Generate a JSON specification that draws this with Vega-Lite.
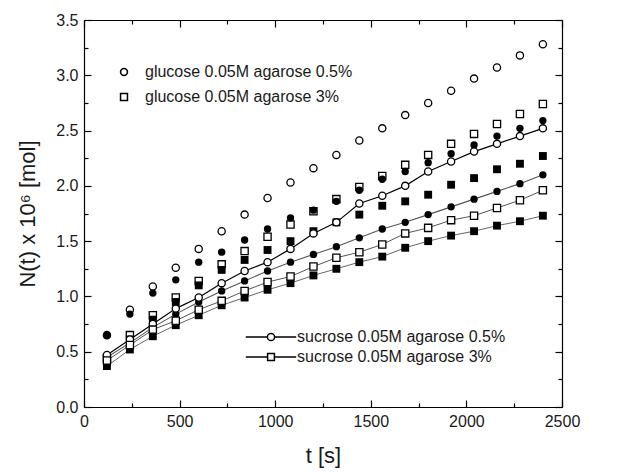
{
  "$schema": "https://vega.github.io/schema/vega-lite/v6.json",
  "width": 478,
  "height": 387,
  "autosize": {"type": "none"},
  "padding": {"left": 84, "top": 20, "right": 66, "bottom": 65},
  "background": "white",
  "config": {
    "view": {"stroke": null},
    "font": "Liberation Sans",
    "axis": {"grid": false, "domainColor": "black", "tickColor": "black", "labelColor": "#1a1a1a", "titleColor": "#1a1a1a", "labelFont": "Liberation Sans", "titleFont": "Liberation Sans", "titleFontWeight": "normal", "domainWidth": 1.2, "tickWidth": 1.2, "labelFlush": false, "labelOverlap": false},
    "legend": {"labelFont": "Liberation Sans", "labelFontSize": 16, "labelColor": "#1a1a1a", "labelLimit": 0, "padding": 0, "title": null}
  },
  "datasets": {
    "d": [
      {"t":120,"v":0.65,"s":"glucose 0.05M agarose 0.5%"},{"t":240,"v":0.88,"s":"glucose 0.05M agarose 0.5%"},{"t":360,"v":1.09,"s":"glucose 0.05M agarose 0.5%"},{"t":480,"v":1.26,"s":"glucose 0.05M agarose 0.5%"},{"t":600,"v":1.43,"s":"glucose 0.05M agarose 0.5%"},{"t":720,"v":1.59,"s":"glucose 0.05M agarose 0.5%"},{"t":840,"v":1.74,"s":"glucose 0.05M agarose 0.5%"},{"t":960,"v":1.89,"s":"glucose 0.05M agarose 0.5%"},{"t":1080,"v":2.03,"s":"glucose 0.05M agarose 0.5%"},{"t":1200,"v":2.16,"s":"glucose 0.05M agarose 0.5%"},{"t":1320,"v":2.28,"s":"glucose 0.05M agarose 0.5%"},{"t":1440,"v":2.41,"s":"glucose 0.05M agarose 0.5%"},{"t":1560,"v":2.52,"s":"glucose 0.05M agarose 0.5%"},{"t":1680,"v":2.64,"s":"glucose 0.05M agarose 0.5%"},{"t":1800,"v":2.75,"s":"glucose 0.05M agarose 0.5%"},{"t":1920,"v":2.86,"s":"glucose 0.05M agarose 0.5%"},{"t":2040,"v":2.97,"s":"glucose 0.05M agarose 0.5%"},{"t":2160,"v":3.07,"s":"glucose 0.05M agarose 0.5%"},{"t":2280,"v":3.18,"s":"glucose 0.05M agarose 0.5%"},{"t":2400,"v":3.28,"s":"glucose 0.05M agarose 0.5%"},
      {"t":120,"v":0.44,"s":"glucose 0.05M agarose 3%"},{"t":240,"v":0.65,"s":"glucose 0.05M agarose 3%"},{"t":360,"v":0.83,"s":"glucose 0.05M agarose 3%"},{"t":480,"v":0.99,"s":"glucose 0.05M agarose 3%"},{"t":600,"v":1.14,"s":"glucose 0.05M agarose 3%"},{"t":720,"v":1.29,"s":"glucose 0.05M agarose 3%"},{"t":840,"v":1.41,"s":"glucose 0.05M agarose 3%"},{"t":960,"v":1.54,"s":"glucose 0.05M agarose 3%"},{"t":1080,"v":1.65,"s":"glucose 0.05M agarose 3%"},{"t":1200,"v":1.77,"s":"glucose 0.05M agarose 3%"},{"t":1320,"v":1.88,"s":"glucose 0.05M agarose 3%"},{"t":1440,"v":1.99,"s":"glucose 0.05M agarose 3%"},{"t":1560,"v":2.09,"s":"glucose 0.05M agarose 3%"},{"t":1680,"v":2.19,"s":"glucose 0.05M agarose 3%"},{"t":1800,"v":2.28,"s":"glucose 0.05M agarose 3%"},{"t":1920,"v":2.38,"s":"glucose 0.05M agarose 3%"},{"t":2040,"v":2.47,"s":"glucose 0.05M agarose 3%"},{"t":2160,"v":2.56,"s":"glucose 0.05M agarose 3%"},{"t":2280,"v":2.65,"s":"glucose 0.05M agarose 3%"},{"t":2400,"v":2.74,"s":"glucose 0.05M agarose 3%"},
      {"t":120,"v":0.65,"s":"filled circles"},{"t":240,"v":0.84,"s":"filled circles"},{"t":360,"v":1.03,"s":"filled circles"},{"t":480,"v":1.15,"s":"filled circles"},{"t":600,"v":1.31,"s":"filled circles"},{"t":720,"v":1.40,"s":"filled circles"},{"t":840,"v":1.51,"s":"filled circles"},{"t":960,"v":1.61,"s":"filled circles"},{"t":1080,"v":1.71,"s":"filled circles"},{"t":1200,"v":1.78,"s":"filled circles"},{"t":1320,"v":1.86,"s":"filled circles"},{"t":1440,"v":1.96,"s":"filled circles"},{"t":1560,"v":2.06,"s":"filled circles"},{"t":1680,"v":2.13,"s":"filled circles"},{"t":1800,"v":2.21,"s":"filled circles"},{"t":1920,"v":2.29,"s":"filled circles"},{"t":2040,"v":2.37,"s":"filled circles"},{"t":2160,"v":2.45,"s":"filled circles"},{"t":2280,"v":2.52,"s":"filled circles"},{"t":2400,"v":2.59,"s":"filled circles"},
      {"t":120,"v":0.40,"s":"filled squares"},{"t":240,"v":0.61,"s":"filled squares"},{"t":360,"v":0.79,"s":"filled squares"},{"t":480,"v":0.95,"s":"filled squares"},{"t":600,"v":1.10,"s":"filled squares"},{"t":720,"v":1.24,"s":"filled squares"},{"t":840,"v":1.33,"s":"filled squares"},{"t":960,"v":1.42,"s":"filled squares"},{"t":1080,"v":1.50,"s":"filled squares"},{"t":1200,"v":1.59,"s":"filled squares"},{"t":1320,"v":1.67,"s":"filled squares"},{"t":1440,"v":1.74,"s":"filled squares"},{"t":1560,"v":1.82,"s":"filled squares"},{"t":1680,"v":1.86,"s":"filled squares"},{"t":1800,"v":1.92,"s":"filled squares"},{"t":1920,"v":2.01,"s":"filled squares"},{"t":2040,"v":2.07,"s":"filled squares"},{"t":2160,"v":2.15,"s":"filled squares"},{"t":2280,"v":2.20,"s":"filled squares"},{"t":2400,"v":2.27,"s":"filled squares"},
      {"t":120,"v":0.47,"s":"sucrose 0.05M agarose 0.5%"},{"t":240,"v":0.61,"s":"sucrose 0.05M agarose 0.5%"},{"t":360,"v":0.75,"s":"sucrose 0.05M agarose 0.5%"},{"t":480,"v":0.89,"s":"sucrose 0.05M agarose 0.5%"},{"t":600,"v":0.99,"s":"sucrose 0.05M agarose 0.5%"},{"t":720,"v":1.12,"s":"sucrose 0.05M agarose 0.5%"},{"t":840,"v":1.23,"s":"sucrose 0.05M agarose 0.5%"},{"t":960,"v":1.31,"s":"sucrose 0.05M agarose 0.5%"},{"t":1080,"v":1.43,"s":"sucrose 0.05M agarose 0.5%"},{"t":1200,"v":1.57,"s":"sucrose 0.05M agarose 0.5%"},{"t":1320,"v":1.67,"s":"sucrose 0.05M agarose 0.5%"},{"t":1440,"v":1.84,"s":"sucrose 0.05M agarose 0.5%"},{"t":1560,"v":1.91,"s":"sucrose 0.05M agarose 0.5%"},{"t":1680,"v":2.00,"s":"sucrose 0.05M agarose 0.5%"},{"t":1800,"v":2.13,"s":"sucrose 0.05M agarose 0.5%"},{"t":1920,"v":2.22,"s":"sucrose 0.05M agarose 0.5%"},{"t":2040,"v":2.31,"s":"sucrose 0.05M agarose 0.5%"},{"t":2160,"v":2.38,"s":"sucrose 0.05M agarose 0.5%"},{"t":2280,"v":2.45,"s":"sucrose 0.05M agarose 0.5%"},{"t":2400,"v":2.52,"s":"sucrose 0.05M agarose 0.5%"},
      {"t":120,"v":0.45,"s":"filled circles (line)"},{"t":240,"v":0.58,"s":"filled circles (line)"},{"t":360,"v":0.72,"s":"filled circles (line)"},{"t":480,"v":0.84,"s":"filled circles (line)"},{"t":600,"v":0.95,"s":"filled circles (line)"},{"t":720,"v":1.05,"s":"filled circles (line)"},{"t":840,"v":1.14,"s":"filled circles (line)"},{"t":960,"v":1.23,"s":"filled circles (line)"},{"t":1080,"v":1.31,"s":"filled circles (line)"},{"t":1200,"v":1.38,"s":"filled circles (line)"},{"t":1320,"v":1.45,"s":"filled circles (line)"},{"t":1440,"v":1.53,"s":"filled circles (line)"},{"t":1560,"v":1.61,"s":"filled circles (line)"},{"t":1680,"v":1.67,"s":"filled circles (line)"},{"t":1800,"v":1.74,"s":"filled circles (line)"},{"t":1920,"v":1.81,"s":"filled circles (line)"},{"t":2040,"v":1.88,"s":"filled circles (line)"},{"t":2160,"v":1.95,"s":"filled circles (line)"},{"t":2280,"v":2.02,"s":"filled circles (line)"},{"t":2400,"v":2.10,"s":"filled circles (line)"},
      {"t":120,"v":0.42,"s":"sucrose 0.05M agarose 3%"},{"t":240,"v":0.56,"s":"sucrose 0.05M agarose 3%"},{"t":360,"v":0.70,"s":"sucrose 0.05M agarose 3%"},{"t":480,"v":0.78,"s":"sucrose 0.05M agarose 3%"},{"t":600,"v":0.88,"s":"sucrose 0.05M agarose 3%"},{"t":720,"v":0.96,"s":"sucrose 0.05M agarose 3%"},{"t":840,"v":1.05,"s":"sucrose 0.05M agarose 3%"},{"t":960,"v":1.13,"s":"sucrose 0.05M agarose 3%"},{"t":1080,"v":1.18,"s":"sucrose 0.05M agarose 3%"},{"t":1200,"v":1.27,"s":"sucrose 0.05M agarose 3%"},{"t":1320,"v":1.35,"s":"sucrose 0.05M agarose 3%"},{"t":1440,"v":1.40,"s":"sucrose 0.05M agarose 3%"},{"t":1560,"v":1.47,"s":"sucrose 0.05M agarose 3%"},{"t":1680,"v":1.57,"s":"sucrose 0.05M agarose 3%"},{"t":1800,"v":1.62,"s":"sucrose 0.05M agarose 3%"},{"t":1920,"v":1.69,"s":"sucrose 0.05M agarose 3%"},{"t":2040,"v":1.73,"s":"sucrose 0.05M agarose 3%"},{"t":2160,"v":1.80,"s":"sucrose 0.05M agarose 3%"},{"t":2280,"v":1.87,"s":"sucrose 0.05M agarose 3%"},{"t":2400,"v":1.96,"s":"sucrose 0.05M agarose 3%"},
      {"t":120,"v":0.37,"s":"filled squares (line)"},{"t":240,"v":0.52,"s":"filled squares (line)"},{"t":360,"v":0.64,"s":"filled squares (line)"},{"t":480,"v":0.74,"s":"filled squares (line)"},{"t":600,"v":0.83,"s":"filled squares (line)"},{"t":720,"v":0.92,"s":"filled squares (line)"},{"t":840,"v":0.99,"s":"filled squares (line)"},{"t":960,"v":1.06,"s":"filled squares (line)"},{"t":1080,"v":1.12,"s":"filled squares (line)"},{"t":1200,"v":1.19,"s":"filled squares (line)"},{"t":1320,"v":1.25,"s":"filled squares (line)"},{"t":1440,"v":1.31,"s":"filled squares (line)"},{"t":1560,"v":1.36,"s":"filled squares (line)"},{"t":1680,"v":1.44,"s":"filled squares (line)"},{"t":1800,"v":1.50,"s":"filled squares (line)"},{"t":1920,"v":1.55,"s":"filled squares (line)"},{"t":2040,"v":1.59,"s":"filled squares (line)"},{"t":2160,"v":1.64,"s":"filled squares (line)"},{"t":2280,"v":1.68,"s":"filled squares (line)"},{"t":2400,"v":1.73,"s":"filled squares (line)"}
    ]
  },
  "layer": [
    {
      "data": {"name": "d"},
      "transform": [{"filter": {"field": "s", "oneOf": ["sucrose 0.05M agarose 0.5%", "filled circles (line)", "sucrose 0.05M agarose 3%", "filled squares (line)"]}}],
      "mark": {"type": "line"},
      "encoding": {
        "x": {"field": "t", "type": "quantitative", "scale": {"domain": [0, 2500], "nice": false},
              "axis": {"orient": "bottom", "values": [0, 500, 1000, 1500, 2000, 2500], "format": "d", "tickSize": -7, "labelPadding": 13, "labelFontSize": 16, "title": "t [s]", "titleFontSize": 22, "minExtent": 22, "maxExtent": 22, "titlePadding": 16}},
        "y": {"field": "v", "type": "quantitative", "scale": {"domain": [0, 3.5], "nice": false},
              "axis": {"orient": "left", "values": [0, 0.5, 1, 1.5, 2, 2.5, 3, 3.5], "format": ".1f", "tickSize": -7, "labelPadding": 13, "labelFontSize": 16, "title": "N(t) x 10⁶ [mol]", "titleFontSize": 22, "minExtent": 28, "maxExtent": 28, "titlePadding": 17}},
        "detail": {"field": "s"},
        "color": {"field": "s", "type": "nominal", "legend": null, "scale": {"domain": ["sucrose 0.05M agarose 0.5%", "filled circles (line)", "sucrose 0.05M agarose 3%", "filled squares (line)"], "range": ["#000000", "#555555", "#555555", "#555555"]}},
        "strokeWidth": {"field": "s", "type": "nominal", "legend": null, "scale": {"domain": ["sucrose 0.05M agarose 0.5%", "filled circles (line)", "sucrose 0.05M agarose 3%", "filled squares (line)"], "range": [1.2, 0.9, 0.9, 0.9]}}
      }
    },
    {
      "data": {"name": "d"},
      "transform": [{"filter": {"field": "s", "oneOf": ["glucose 0.05M agarose 0.5%", "glucose 0.05M agarose 3%"]}}],
      "mark": {"type": "point", "filled": true, "fill": "white", "stroke": "black", "strokeWidth": 1.3, "size": 52, "opacity": 1},
      "encoding": {
        "x": {"field": "t", "type": "quantitative", "axis": {"orient": "bottom", "values": [250, 750, 1250, 1750, 2250], "tickSize": -4, "labels": false, "domain": false, "title": null}},
        "y": {"field": "v", "type": "quantitative", "axis": {"orient": "left", "values": [0.25, 0.75, 1.25, 1.75, 2.25, 2.75, 3.25], "tickSize": -4, "labels": false, "domain": false, "title": null}},
        "shape": {"field": "s", "type": "nominal", "scale": {"domain": ["glucose 0.05M agarose 0.5%", "glucose 0.05M agarose 3%"], "range": ["circle", "square"]},
                  "legend": {"orient": "none", "legendX": 32, "legendY": 44, "symbolSize": 48, "labelOffset": 13, "rowPadding": 9,
                             "encode": {"symbols": {"fill": {"value": "white"}, "stroke": {"value": "black"}, "strokeWidth": {"value": 1.3}, "opacity": {"value": 1}}}}}
      }
    },
    {
      "data": {"name": "d"},
      "transform": [{"filter": {"field": "s", "oneOf": ["filled circles", "filled circles (line)"]}}],
      "mark": {"type": "point", "filled": true, "shape": "circle", "size": 54, "color": "black", "opacity": 1},
      "encoding": {
        "x": {"field": "t", "type": "quantitative", "axis": {"orient": "top", "values": [0, 500, 1000, 1500, 2000, 2500], "tickSize": -7, "labels": false, "title": null, "minExtent": 0, "maxExtent": 0}},
        "y": {"field": "v", "type": "quantitative", "axis": {"orient": "right", "values": [0, 0.5, 1, 1.5, 2, 2.5, 3, 3.5], "tickSize": -7, "labels": false, "title": null, "minExtent": 0, "maxExtent": 0}}
      }
    },
    {
      "data": {"name": "d"},
      "transform": [{"filter": {"field": "s", "oneOf": ["filled squares", "filled squares (line)"]}}],
      "mark": {"type": "point", "filled": true, "shape": "square", "size": 62, "color": "black", "opacity": 1},
      "encoding": {
        "x": {"field": "t", "type": "quantitative", "axis": {"orient": "top", "values": [250, 750, 1250, 1750, 2250], "tickSize": -4, "labels": false, "domain": false, "title": null, "minExtent": 0, "maxExtent": 0}},
        "y": {"field": "v", "type": "quantitative", "axis": {"orient": "right", "values": [0.25, 0.75, 1.25, 1.75, 2.25, 2.75, 3.25], "tickSize": -4, "labels": false, "domain": false, "title": null, "minExtent": 0, "maxExtent": 0}}
      }
    },
    {
      "data": {"name": "d"},
      "transform": [{"filter": {"field": "s", "oneOf": ["sucrose 0.05M agarose 0.5%", "sucrose 0.05M agarose 3%"]}}],
      "mark": {"type": "point", "filled": true, "fill": "white", "stroke": "black", "strokeWidth": 1.3, "size": 52, "opacity": 1},
      "encoding": {
        "x": {"field": "t", "type": "quantitative", "axis": null},
        "y": {"field": "v", "type": "quantitative", "axis": null},
        "shape": {"field": "s", "type": "nominal", "legend": null, "scale": {"domain": ["sucrose 0.05M agarose 0.5%", "sucrose 0.05M agarose 3%"], "range": ["circle", "square"]}}
      }
    },
    {
      "data": {"name": "d"},
      "transform": [{"filter": {"field": "s", "oneOf": ["sucrose 0.05M agarose 0.5%", "sucrose 0.05M agarose 3%"]}}],
      "mark": {"type": "point", "filled": true, "fill": "white", "stroke": "black", "strokeWidth": 1.2, "opacity": 0, "size": 64},
      "encoding": {
        "x": {"field": "t", "type": "quantitative", "axis": null},
        "y": {"field": "v", "type": "quantitative", "axis": null},
        "shape": {"field": "s", "type": "nominal",
                  "scale": {"domain": ["sucrose 0.05M agarose 0.5%", "sucrose 0.05M agarose 3%"], "range": ["M-6.3,0H-0.9M0.9,0H6.3M0.9,0A0.9,0.9 0 1 1 -0.9,0A0.9,0.9 0 1 1 0.9,0Z", "M-6.3,0H-0.85M0.85,0H6.3M-0.85,-0.85H0.85V0.85H-0.85Z"]},
                  "legend": {"orient": "none", "legendX": 179, "legendY": 309, "symbolSize": 64, "labelOffset": 18, "rowPadding": 4,
                             "encode": {"symbols": {"fill": {"value": "white"}, "stroke": {"value": "black"}, "strokeWidth": {"value": 1.1}, "opacity": {"value": 1}}}}}
      }
    }
  ],
  "resolve": {
    "axis": {"x": "independent", "y": "independent"},
    "scale": {"shape": "independent", "color": "independent", "strokeWidth": "independent"},
    "legend": {"shape": "independent"}
  }
}
